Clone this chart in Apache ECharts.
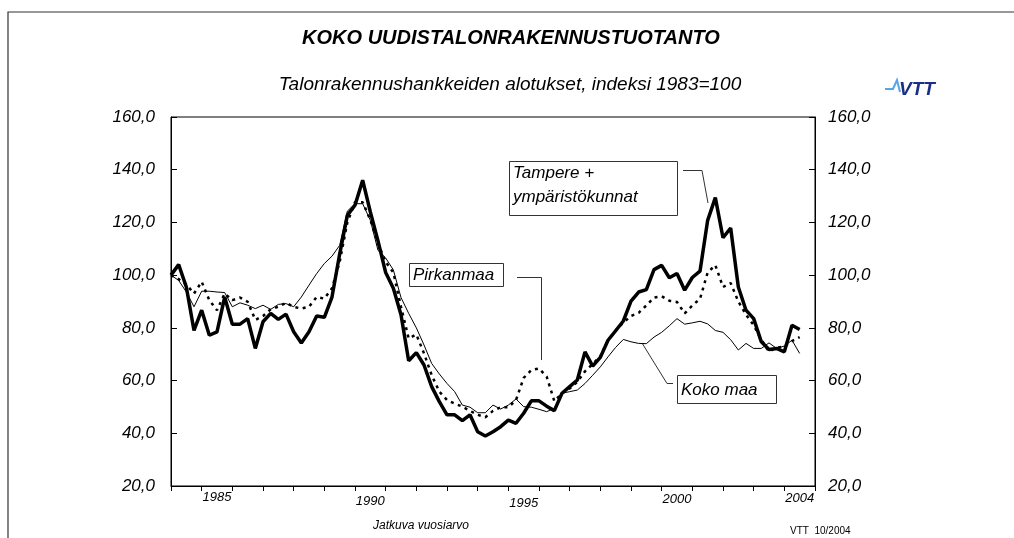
<!DOCTYPE html>
<html>
<head>
<meta charset="utf-8">
<script src="https://cdn.jsdelivr.net/npm/echarts@6/dist/echarts.min.js"></script>
<style>html,body{margin:0;padding:0;background:#fff}#c{width:1014px;height:538px}</style>
</head>
<body>
<div id="c"></div>
<script>
// Years on the category axis (each year has four quarterly points)
const years = [1984,1985,1986,1987,1988,1989,1990,1991,1992,1993,1994,1995,1996,1997,1998,1999,2000,2001,2002,2003,2004];
const shownYears = [1985,1990,1995,2000,2004];
const yTicks = [20,40,60,80,100,120,140,160];

// Koko maa (thin line)
const kokoMaa = [100,98,93.6,88,93.9,93.9,93.6,93.4,88,89.5,88.6,87.3,88.6,87,88.9,89.2,88,91.7,96.2,100.6,
  104.4,107.2,111.3,124.3,127.1,127.1,120.8,109.4,106.5,102,
  91.5,85.5,80,73.5,66.5,62.5,58.9,55.8,50.7,49.9,47.8,47.8,50.7,49.2,50.7,53,50.1,49.9,49.1,48.2,
  49.5,55.2,55.8,56.4,58.9,62,65.2,
  69,72.6,75.6,74.7,74.1,74,76.5,78.3,80.8,83.5,81.4,81.9,82.5,81.5,79,78.3,75.5,71.6,74.1,72.2,
  72.2,74.3,72.2,73.1,75.3,70.3];

// Pirkanmaa (dotted line)
const pirkanmaa = [100,98.5,96.5,93,97.5,90.5,86.7,93,90.5,91.5,89.9,83,84.5,87,88,89.5,88,87.3,88,91.7,
  91.1,95,105,120,127.7,127.7,121,112,105,101,
  88,76,77.5,70.3,62.1,55.8,52.6,51.3,50.1,48.5,47,46.1,48.5,49.9,49.9,52.6,61,64,64.6,61.5,
  52.2,55.2,57,59.5,63.5,66.3,69.2,
  75.3,79,82,84.5,85.7,88.5,91.5,92,90.3,89.8,85.5,88.5,91,101,103.8,95.5,97,90,85,81,
  75.5,71,72.5,73,75,76.5];

// Tampere + ympäristökunnat (thick line)
const tampere = [100,104,95.5,79,86.7,77.2,78.5,91.7,81.4,81.4,83.5,72.2,82.3,85.5,83.2,85.2,78.5,74.3,78.5,84.5,
  84,91.7,108,122.7,126.5,136,124,113,101,95,
  85,67.5,70.6,65.9,57.7,52,47,47,44.8,47,40.6,39,40.6,42.5,45,43.8,47.6,52.3,52.3,50.3,
  48.6,55.2,57.7,60.2,70.9,65.5,68.8,
  75.3,78.9,82.6,90.1,93.6,94.5,102.1,103.7,99,100.6,94.3,99.1,101.5,120.8,129.4,114.2,117.9,95.5,86.7,83.5,
  74.7,71.8,72.2,70.9,81,79.4];

const quarters = [];
years.forEach(y => { for (let q = 1; q <= 4; q++) quarters.push(y + '/' + q); });
quarters.push('2005/1');

const FONT = '"Liberation Sans", Arial, sans-serif';
const fmtY = v => v.toFixed(1).replace('.', ',');
const labelRich = {
  r1985: {padding:[0,0,0,0]}, r1990: {padding:[4,0,0,0]}, r1995: {padding:[6,0,0,0]},
  r2000: {padding:[2,0,0,0]}, r2004: {padding:[1,0,0,0]}
};
Object.keys(labelRich).forEach(k => Object.assign(labelRich[k], {fontSize:13, fontStyle:'italic', color:'#000', fontFamily:FONT}));

const chart = echarts.init(document.getElementById('c'), null, {renderer:'canvas'});

const yAxisBase = {
  type:'value', min:20, max:160, interval:20,
  axisLine:{show:true, lineStyle:{color:'#000', width:1}},
  axisTick:{show:true, inside:true, length:6, lineStyle:{color:'#000'}},
  splitLine:{show:false},
  axisLabel:{formatter:fmtY, fontSize:17, fontStyle:'italic', color:'#000', fontFamily:FONT}
};

const boxStyle = {fill:'#fff', stroke:'#333', lineWidth:1};
const annoText = {fill:'#000', fontSize:17, fontStyle:'italic', fontFamily:FONT, verticalAlign:'middle', align:'left'};

chart.setOption({
  animation:false,
  backgroundColor:'#fff',
  grid:{left:171, right:199, top:117, bottom:52, show:true, borderColor:'#000', borderWidth:1, backgroundColor:'transparent'},
  xAxis:{
    type:'category', data:quarters, boundaryGap:false,
    axisLine:{lineStyle:{color:'#000', width:1}},
    axisTick:{show:true, interval:(i) => i % 4 === 0, length:5, lineStyle:{color:'#000'}},
    axisLabel:{
      interval:(i, v) => (i % 4 === 2) && shownYears.includes(+String(v).slice(0,4)),
      formatter:(v) => { const y = String(v).slice(0,4); return '{r' + y + '|' + y + '}'; },
      margin:5, rich:labelRich, fontSize:13, fontStyle:'italic', color:'#000', fontFamily:FONT
    },
    splitLine:{show:false}
  },
  yAxis:[
    Object.assign({}, yAxisBase, {position:'left', axisLabel:Object.assign({}, yAxisBase.axisLabel, {margin:16})}),
    Object.assign({}, yAxisBase, {position:'right', axisLabel:Object.assign({}, yAxisBase.axisLabel, {margin:13})})
  ],
  series:[
    {name:'Koko maa', type:'line', data:kokoMaa, symbol:'none', yAxisIndex:0,
     lineStyle:{color:'#000', width:1}},
    {name:'Pirkanmaa', type:'line', data:pirkanmaa, symbol:'none', yAxisIndex:0,
     lineStyle:{color:'#000', width:2.5, type:[3,4.5]}},
    {name:'Tampere + ympäristökunnat', type:'line', data:tampere, symbol:'none', yAxisIndex:0,
     lineStyle:{color:'#000', width:3.5}}
  ],
  graphic:[
    {type:'polyline', silent:true, shape:{points:[[8,538],[8,12],[1014,12]]}, style:{stroke:'#333', lineWidth:1.2, fill:null}},
    {type:'text', x:511, y:38, style:{text:'KOKO UUDISTALONRAKENNUSTUOTANTO', fontSize:20, fontWeight:'bold', fontStyle:'italic', fontFamily:FONT, fill:'#000', align:'center', verticalAlign:'middle'}},
    {type:'text', x:510, y:85, style:{text:'Talonrakennushankkeiden alotukset, indeksi 1983=100', fontSize:19, fontStyle:'italic', fontFamily:FONT, fill:'#000', align:'center', verticalAlign:'middle'}},
    // VTT logo
    {type:'polyline', silent:true, shape:{points:[[885,89],[893,89],[897,80],[900,92]]}, style:{stroke:'#55a6e8', lineWidth:2, fill:null}},
    {type:'text', x:899, y:90, style:{text:'VTT', fontSize:19, fontWeight:900, fontStyle:'italic', fontFamily:FONT, fill:'#1a2f86', align:'left', verticalAlign:'middle'}},
    // Tampere annotation
    {type:'rect', shape:{x:509.5, y:161.5, width:168, height:54}, style:boxStyle},
    {type:'text', x:513, y:173, style:Object.assign({text:'Tampere +'}, annoText)},
    {type:'text', x:513, y:197, style:Object.assign({text:'ympäristökunnat'}, annoText)},
    {type:'polyline', shape:{points:[[683,170.5],[702,170.5],[708,203]]}, style:{stroke:'#333', lineWidth:1, fill:null}},
    // Pirkanmaa annotation
    {type:'rect', shape:{x:409.5, y:263.5, width:94, height:23}, style:boxStyle},
    {type:'text', x:413, y:275.5, style:Object.assign({text:'Pirkanmaa'}, annoText)},
    {type:'polyline', shape:{points:[[517,277.5],[541.5,277.5],[541.5,360]]}, style:{stroke:'#333', lineWidth:1, fill:null}},
    // Koko maa annotation
    {type:'rect', shape:{x:677.5, y:375.5, width:99, height:28}, style:boxStyle},
    {type:'text', x:681, y:390, style:Object.assign({text:'Koko maa'}, annoText)},
    {type:'polyline', shape:{points:[[642,343],[667,383.5],[673,383.5]]}, style:{stroke:'#333', lineWidth:1, fill:null}},
    // footer
    {type:'text', x:421, y:526, style:{text:'Jatkuva vuosiarvo', fontSize:12, fontStyle:'italic', fontFamily:FONT, fill:'#000', align:'center', verticalAlign:'middle'}},
    {type:'text', x:790, y:531.5, style:{text:'VTT  10/2004', fontSize:10, fontFamily:FONT, fill:'#000', align:'left', verticalAlign:'middle'}}
  ]
});
</script>
</body>
</html>
